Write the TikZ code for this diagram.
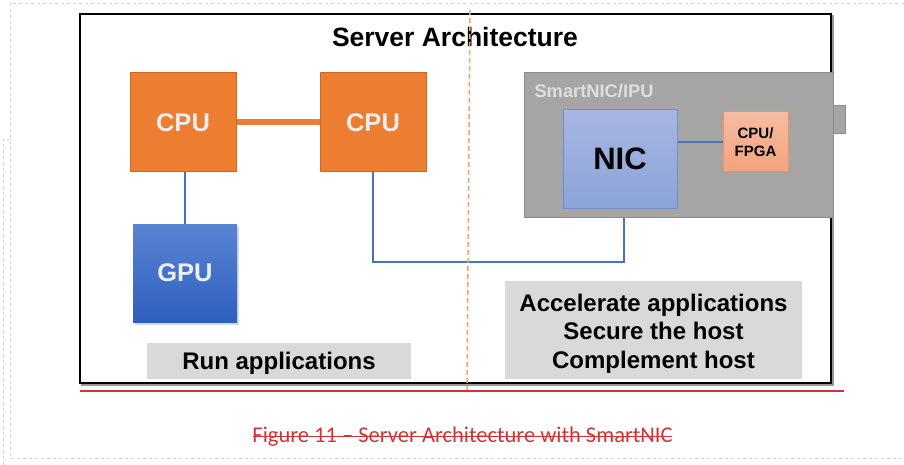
\documentclass[tikz,border=0pt]{standalone}
\usepackage{fontspec}
\setmainfont{Liberation Sans}
\newfontfamily\capfont{Carlito}
\usetikzlibrary{calc,shadows}
\definecolor{cpuorange}{HTML}{ED7D31}
\definecolor{cpuedge}{HTML}{D0691F}
\definecolor{linkblue}{HTML}{4472C4}
\definecolor{gputop}{HTML}{5B85D3}
\definecolor{gpubot}{HTML}{2F5FBF}
\definecolor{nictop}{HTML}{A7B6E0}
\definecolor{nicbot}{HTML}{8BA3D9}
\definecolor{nicedge}{HTML}{6E8ED0}
\definecolor{fpgatop}{HTML}{F6BCA2}
\definecolor{fpgabot}{HTML}{F4A27C}
\definecolor{fpgaedge}{HTML}{F0905E}
\definecolor{cardgray}{HTML}{A5A5A5}
\definecolor{cardedge}{HTML}{8C8C8C}
\definecolor{notegray}{HTML}{D9D9D9}
\definecolor{capred}{HTML}{D13438}
\definecolor{splitorange}{HTML}{F3A46A}
\definecolor{pagegray}{HTML}{D0D0D0}
\tikzset{
  cpubox/.style={draw=cpuedge,fill=cpuorange,line width=1pt,minimum width=106,minimum height=99,
    text=white!93!black,font=\bfseries\fontsize{25.5}{25.5}\selectfont},
  notebox/.style={fill=notegray,inner sep=0pt,font=\bfseries\fontsize{24}{28.5}\selectfont,align=center},
  link/.style={draw=linkblue,line width=1.5pt},
  pageline/.style={draw=pagegray,line width=0.8pt,dash pattern=on 3pt off 3pt}
}
\begin{document}
\begin{tikzpicture}[x=1pt,y=-1pt]
  \useasboundingbox (0,0) rectangle (904,465);
  % page frame
  \path[pageline] (904,3) -- (10,3) -- (10,458) -- (904,458);
  \path[pageline] (10,139) -- (3,139) -- (3,465);
  % server box
  \draw[gray!80,line width=1.5pt] (82,16) rectangle (833,385);
  \draw[black,fill=white,line width=1.5pt] (80,14) rectangle (831,383);
  \node [font=\bfseries\fontsize{26.5}{26.5}\selectfont] (title) at (455,37) {Server Architecture};
  % host side
  \node [cpubox] (cpuA) at (183,122.5) {CPU};
  \node [cpubox] (cpuB) at (373,122.5) {CPU};
  \node [top color=gputop,bottom color=gpubot,minimum width=104,minimum height=98,
    drop shadow={opacity=0.3,shadow xshift=1.5pt,shadow yshift=-2.5pt},
    text=white!93!black,font=\bfseries\fontsize{25.5}{25.5}\selectfont] (gpu) at (185,273) {GPU};
  \coordinate (bend) at (624,262);
  \path[link] (gpu.north) -- (gpu.north |- cpuA.south);
  \path[link] (cpuB.south) |- (bend) -- (624,217);
  \path[draw=cpuorange,line width=6pt] (cpuA.east) -- (cpuB.west);
  % smartnic card
  \node [draw=cardedge,fill=cardgray,minimum width=12,minimum height=28] (tab) at (839,119) {};
  \node [draw=cardedge,fill=cardgray,line width=1pt,minimum width=309,minimum height=144] (smartnic) at (678.5,145) {};
  \node [anchor=west,text=white!87!black,font=\bfseries\fontsize{18.3}{18.3}\selectfont] (cardlabel) at (531,91) {SmartNIC/IPU};
  \node [draw=nicedge,top color=nictop,bottom color=nicbot,line width=1pt,minimum width=114,minimum height=98,
    font=\bfseries\fontsize{31}{31}\selectfont] (nic) at (620,159) {NIC};
  \node [draw=fpgaedge,top color=fpgatop,bottom color=fpgabot,line width=1pt,minimum width=65,minimum height=60,
    align=center,font=\bfseries\fontsize{15}{18}\selectfont] (fpga) at (755.5,142) {CPU/\\FPGA};
  \path[link] (fpga.west -| nic.east) -- (fpga.west);
  % roles
  \node [notebox,text depth=0pt,minimum width=264,minimum height=36] (runapp) at (279,361) {Run applications};
  \node [notebox,minimum width=297,minimum height=98] (accel) at (653.5,330) {\rule{0pt}{24pt}Accelerate applications\\Secure the host\\Complement host};
  % split
  \path[draw=splitorange,line width=1.5pt,dash pattern=on 5pt off 3pt] (470,10) -- (467,393);
  % caption
  \path[draw=capred,line width=2pt] (80,391) -- (844,391);
  \node [anchor=base,text=capred,font=\capfont\fontsize{22.5}{22.5}\selectfont] (caption) at (462.5,442) {Figure 11 – Server Architecture with SmartNIC};
  \path[draw=capred,line width=1.5pt] ($(caption.base west)+(4,-5.5)$) -- ($(caption.base east)+(-4,-5.5)$);
\end{tikzpicture}
\end{document}
